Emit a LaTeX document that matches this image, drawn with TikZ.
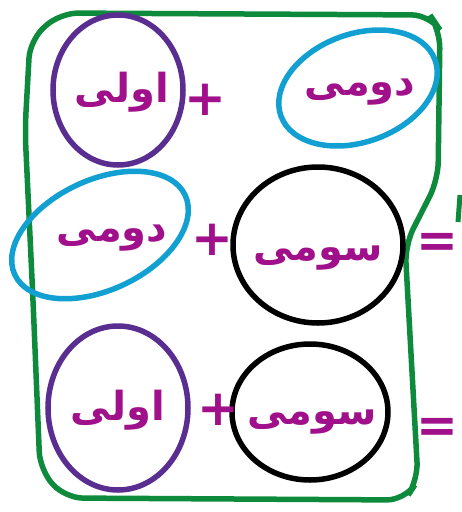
\documentclass[tikz,border=0pt]{standalone}
\usepackage{fontspec}
\usepackage{xcolor}
\newfontfamily\arabicfont[Script=Arabic]{DejaVu Sans}
\TeXXeTstate=1
\definecolor{inkmag}{HTML}{A0108A}
\definecolor{inkpurple}{HTML}{5A2D91}
\definecolor{inkblue}{HTML}{12A0D2}
\definecolor{inkgreen}{HTML}{0E8A3C}
\usetikzlibrary{positioning}
\tikzset{
  word/.style={text=inkmag, inner sep=0pt, font=\arabicfont\bfseries\fontsize{40}{40}\selectfont},
  sign/.style={text=inkmag, inner sep=0pt, font=\arabicfont\bfseries\fontsize{50}{50}\selectfont},
  ring/.style={line width=5.5pt},
}
\begin{document}
\begin{tikzpicture}[x=1pt, y=1pt]
        \useasboundingbox (0,0) rectangle (462,-512);
        \clip (0,0) rectangle (462,-512);

        % frame
        \draw[inkgreen, line width=5.5pt, rounded corners=18pt]
         (60,-13) -- (430,-15) -- (440,-30) -- (438,-180) -- (405,-245)
         -- (418,-480) -- (405,-500) -- (65,-498) -- (40,-470) -- (33,-300)
         -- (25,-130) -- (30,-40) -- cycle;
        \draw[inkgreen, line width=5pt] (460,-195) -- (458,-222);

        % words
        \node (a1) [word] at (122,-92) {\beginR اولی\endR};
        \node (b1) [word] at (360,-92) {\beginR دومی\endR};
        \node (b2) [word] at (112,-238) {\beginR دومی\endR};
        \node (c2) [word] at (318,-258) {\beginR سومی\endR};
        \node (a3) [word] at (118,-410) {\beginR اولی\endR};
        \node (c3) [word] at (312,-422) {\beginR سومی\endR};

        % rings
        \draw[inkpurple, ring] (118,-90) ellipse [x radius=65, y radius=75];
        \draw[inkblue, ring, rotate around={20:(358,-88)}] (358,-88) ellipse [x radius=82, y radius=54];
        \draw[inkblue, ring, rotate around={25:(100,-235)}] (100,-235) ellipse [x radius=94, y radius=55];
        \draw[ring] (318,-245) ellipse [x radius=85, y radius=78];
        \draw[inkpurple, ring] (118,-408) ellipse [x radius=70, y radius=82];
        \draw[ring] (310,-412) ellipse [x radius=78, y radius=68];

        % signs
        \node (p1) [sign] at (205,-100) {+};
        \node (p2) [sign] at (212,-240) {+};
        \node (p3) [sign] at (218,-410) {+};
        \node (e2) [sign] at (437,-245) {=};
        \node (e3) [sign] at (437,-430) {=};

    \end{tikzpicture}
\end{document}
